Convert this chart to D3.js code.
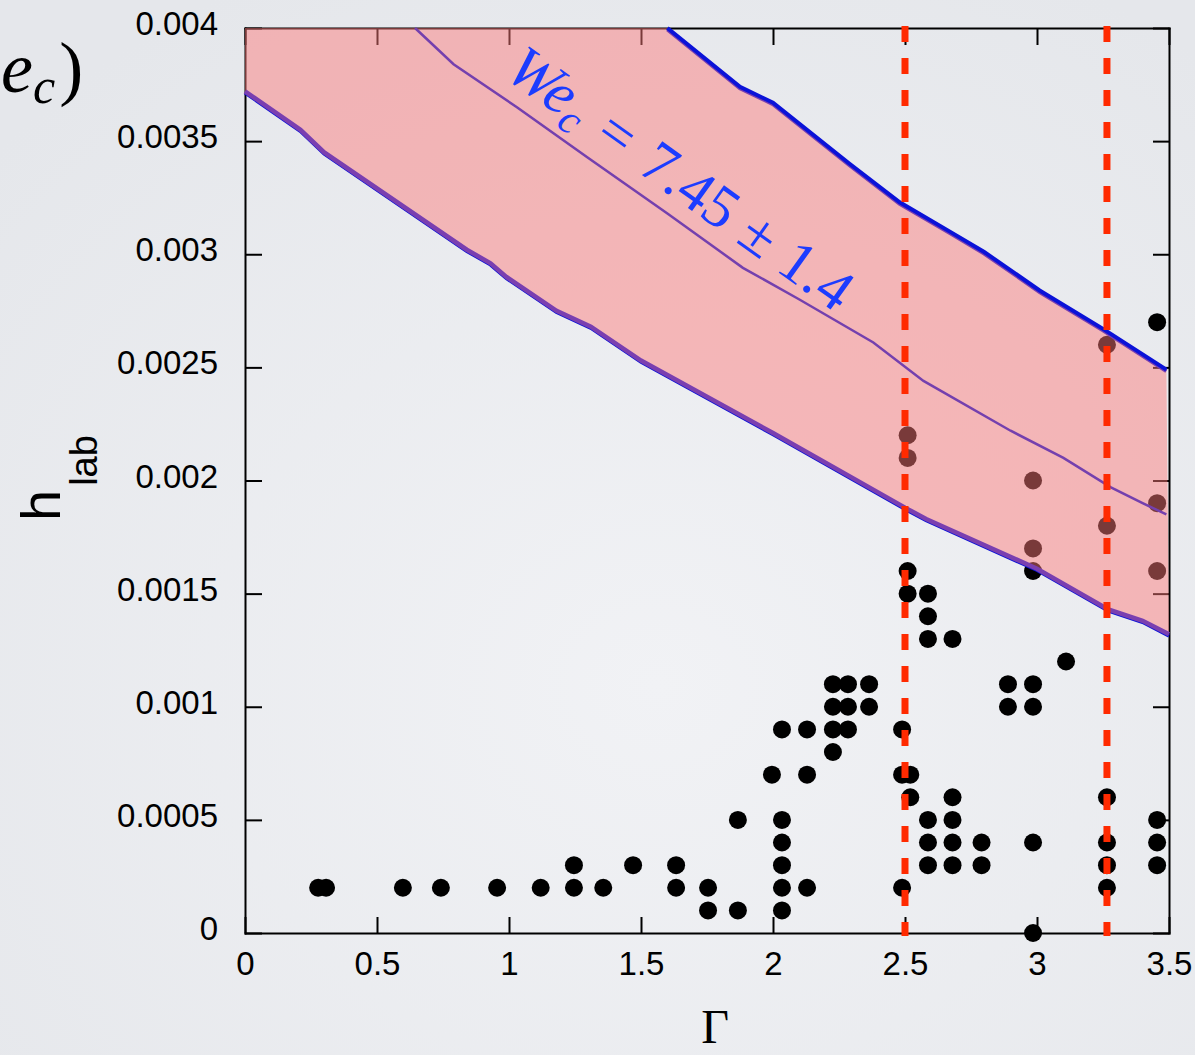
<!DOCTYPE html>
<html>
<head>
<meta charset="utf-8">
<script src="https://cdn.jsdelivr.net/npm/d3@7"></script>
<style>
  body { margin: 0; background: #eceef1; }
  svg { display: block; }
  .axis path, .axis line { stroke: #000; stroke-width: 2; }
  .axis text { font-family: "Liberation Sans", Arial, sans-serif; font-size: 33px; fill: #000; }
</style>
</head>
<body>
<script>
// h_lab vs Gamma, with the We_c band
var xTicks = [0, 0.5, 1, 1.5, 2, 2.5, 3, 3.5]
var yTicks = [0, 0.0005, 0.001, 0.0015, 0.002, 0.0025, 0.003, 0.0035, 0.004]
var yTickLabels = ["0", "0.0005", "0.001", "0.0015", "0.002", "0.0025", "0.003", "0.0035", "0.004"]

// lower edge of the band (We_c = 7.45 - 1.4)
var lowerBound = [
  [0, 0.00372], [0.21, 0.00355], [0.30, 0.00345], [0.84, 0.00302], [0.93, 0.00296],
  [0.99, 0.0029], [1.18, 0.00275], [1.31, 0.00268], [1.50, 0.00253], [2.0, 0.00221],
  [2.5, 0.00188], [2.58, 0.00183], [3.0, 0.00161], [3.27, 0.00143], [3.40, 0.00138],
  [3.5, 0.00132]
]
// upper edge (We_c = 7.45 + 1.4)
var upperBound = [
  [1.60, 0.004], [1.875, 0.00374], [2.0, 0.00367], [2.29, 0.0034], [2.48, 0.00323],
  [2.67, 0.0031], [2.80, 0.00301], [3.01, 0.00284], [3.25, 0.00267], [3.49, 0.00249]
]
// We_c = 7.45
var centerLine = [
  [0.644, 0.004], [0.79, 0.00384], [1.03, 0.00365], [1.295, 0.00343], [1.6, 0.00318],
  [1.886, 0.00294], [2.1, 0.0028], [2.38, 0.00261], [2.57, 0.00244], [2.90, 0.00222],
  [3.10, 0.0021], [3.28, 0.00197], [3.40, 0.0019], [3.49, 0.00185]
]

var dashedGamma = [2.5, 3.265]

// [Gamma, h_lab]
var points = [
  [0.277, 0.0002], [0.307, 0.0002], [0.598, 0.0002], [0.742, 0.0002], [0.955, 0.0002],
  [1.12, 0.0002], [1.246, 0.0002], [1.246, 0.0003], [1.357, 0.0002], [1.47, 0.0003],
  [1.633, 0.0003], [1.633, 0.0002], [1.754, 0.0002], [1.754, 0.0001], [1.867, 0.0001],
  [1.867, 0.0005], [2.034, 0.0005], [2.034, 0.0004], [2.034, 0.0003], [2.034, 0.0002],
  [2.034, 0.0001], [2.129, 0.0002], [1.996, 0.0007], [2.129, 0.0007], [2.034, 0.0009],
  [2.129, 0.0009], [2.227, 0.0009], [2.284, 0.0009], [2.227, 0.0008], [2.227, 0.001],
  [2.284, 0.001], [2.364, 0.001], [2.227, 0.0011], [2.284, 0.0011], [2.364, 0.0011],
  [2.489, 0.0009], [2.489, 0.0007], [2.52, 0.0007], [2.52, 0.0006], [2.489, 0.0002],
  [2.51, 0.0016], [2.51, 0.0015], [2.587, 0.0015], [2.587, 0.0014], [2.587, 0.0013],
  [2.68, 0.0013], [2.51, 0.0022], [2.51, 0.0021], [2.587, 0.0005], [2.587, 0.0004],
  [2.587, 0.0003], [2.68, 0.0006], [2.68, 0.0005], [2.68, 0.0004], [2.68, 0.0003],
  [2.79, 0.0004], [2.79, 0.0003], [2.89, 0.0011], [2.89, 0.001], [2.985, 0.0011],
  [2.985, 0.001], [3.11, 0.0012], [2.985, 0.0016], [2.985, 0.0017], [2.985, 0.002],
  [2.985, 0.0004], [2.985, 0], [3.265, 0.0026], [3.265, 0.0018], [3.265, 0.0006],
  [3.265, 0.0004], [3.265, 0.0003], [3.265, 0.0002], [3.455, 0.0027], [3.455, 0.0019],
  [3.455, 0.0016], [3.455, 0.0005], [3.455, 0.0004], [3.455, 0.0003]
]

var W = 1195, H = 1055

var svg = d3.select("body").append("svg")
    .attr("width", W)
    .attr("height", H)

var defs = svg.append("defs")
var grad = defs.append("radialGradient")
    .attr("id", "bg")
    .attr("cx", "55%").attr("cy", "65%").attr("r", "75%")
grad.append("stop").attr("offset", "0%").attr("stop-color", "#f1f2f5")
grad.append("stop").attr("offset", "100%").attr("stop-color", "#e5e7eb")

svg.append("rect")
    .attr("width", W).attr("height", H)
    .attr("fill", "url(#bg)")

var x = d3.scaleLinear().domain([0, 3.5]).range([245, 1169])
var y = d3.scaleLinear().domain([0, 0.004]).range([933, 28])

// frame with inward ticks on all four sides
svg.append("g")
    .attr("class", "axis")
    .attr("transform", "translate(0," + y(0) + ")")
    .call(d3.axisBottom(x).tickValues(xTicks).tickSize(-16).tickSizeOuter(0).tickPadding(19)
      .tickFormat(function(d){ return d3.format("")(d) }))

svg.append("g")
    .attr("class", "axis")
    .attr("transform", "translate(0," + y(0.004) + ")")
    .call(d3.axisTop(x).tickValues(xTicks).tickSize(-17).tickSizeOuter(0).tickFormat(""))

var yAx = svg.append("g")
    .attr("class", "axis")
    .attr("transform", "translate(" + x(0) + ",0)")
    .call(d3.axisLeft(y).tickValues(yTicks).tickSize(-17).tickSizeOuter(0).tickPadding(27)
      .tickFormat(function(d, i){ return yTickLabels[i] }))
yAx.selectAll("text").attr("dy", "0.2em")

svg.append("g")
    .attr("class", "axis")
    .attr("transform", "translate(" + x(3.5) + ",0)")
    .call(d3.axisRight(y).tickValues(yTicks).tickSize(-16).tickSizeOuter(0).tickFormat(""))

svg.selectAll(".axis .domain").attr("stroke-linecap", "square")

// data points (drawn under the band so they read brown inside it)
svg.append("g").selectAll("circle")
    .data(points).enter()
  .append("circle")
    .attr("cx", function(d){ return x(d[0]) })
    .attr("cy", function(d){ return y(d[1]) })
    .attr("r", 9)
    .attr("fill", "#000")

// band
var band = [[0, 0.004]].concat(upperBound, lowerBound.slice().reverse())
var line = d3.line().x(function(d){ return x(d[0]) }).y(function(d){ return y(d[1]) })

svg.append("path")
    .attr("d", line(band) + "Z")
    .attr("fill", "rgb(252,122,122)")
    .attr("fill-opacity", 0.48)

// edges: blue + purple doubled strokes
svg.append("path").attr("d", line(upperBound))
    .attr("transform", "translate(0,1.5)")
    .attr("fill", "none").attr("stroke", "#7a3fb0").attr("stroke-width", 4)
svg.append("path").attr("d", line(upperBound))
    .attr("fill", "none").attr("stroke", "#0b12d8").attr("stroke-width", 4)

svg.append("path").attr("d", line(lowerBound))
    .attr("transform", "translate(0,1.5)")
    .attr("fill", "none").attr("stroke", "#0b12d8").attr("stroke-width", 3.5)
svg.append("path").attr("d", line(lowerBound))
    .attr("fill", "none").attr("stroke", "#7a3fb0").attr("stroke-width", 4.5)

svg.append("path").attr("d", line(centerLine))
    .attr("fill", "none").attr("stroke", "#7440ae").attr("stroke-width", 2.5)

// red dashed markers
svg.append("g").selectAll("line")
    .data(dashedGamma).enter()
  .append("line")
    .attr("x1", function(d){ return x(d) })
    .attr("x2", function(d){ return x(d) })
    .attr("y1", 26)
    .attr("y2", 936)
    .attr("stroke", "#ff2a00")
    .attr("stroke-width", 7)
    .attr("stroke-dasharray", "16,16")

// band label
var lab = svg.append("text")
    .attr("transform", "translate(503,76) rotate(35.5)")
    .attr("font-family", "'Liberation Serif', 'Times New Roman', serif")
    .attr("font-size", 60)
    .attr("fill", "#1c3cff")
lab.append("tspan").attr("font-style", "italic").text("We")
lab.append("tspan").attr("font-style", "italic").attr("font-size", 42).attr("dy", 10).text("c")
lab.append("tspan").attr("dy", -10).attr("dx", 20).text("=")
lab.append("tspan").attr("dx", 20).text("7.45")
lab.append("tspan").attr("dx", 16).text("±")
lab.append("tspan").attr("dx", 16).text("1.4")

// cut-off title at top-left
var ttl = svg.append("text")
    .attr("x", 1).attr("y", 92)
    .attr("font-family", "'Liberation Serif', 'Times New Roman', serif")
    .attr("font-size", 72)
    .attr("fill", "#000")
ttl.append("tspan").attr("font-style", "italic").text("e")
ttl.append("tspan").attr("font-style", "italic").attr("font-size", 50).attr("dy", 11).text("c")
ttl.append("tspan").attr("dy", -11).attr("dx", 4).text(")")

// axis titles
var yl = svg.append("text")
    .attr("transform", "translate(60,521) rotate(-90)")
    .attr("font-family", "'Liberation Sans', Arial, sans-serif")
    .attr("font-size", 56)
    .attr("fill", "#000")
yl.append("tspan").text("h")
yl.append("tspan").attr("font-size", 38).attr("dy", 37).attr("dx", 4).text("lab")

svg.append("text")
    .attr("x", 715).attr("y", 1043)
    .attr("text-anchor", "middle")
    .attr("font-family", "'Liberation Serif', 'Times New Roman', serif")
    .attr("font-size", 48)
    .attr("fill", "#000")
    .text("Γ")
</script>
</body>
</html>
